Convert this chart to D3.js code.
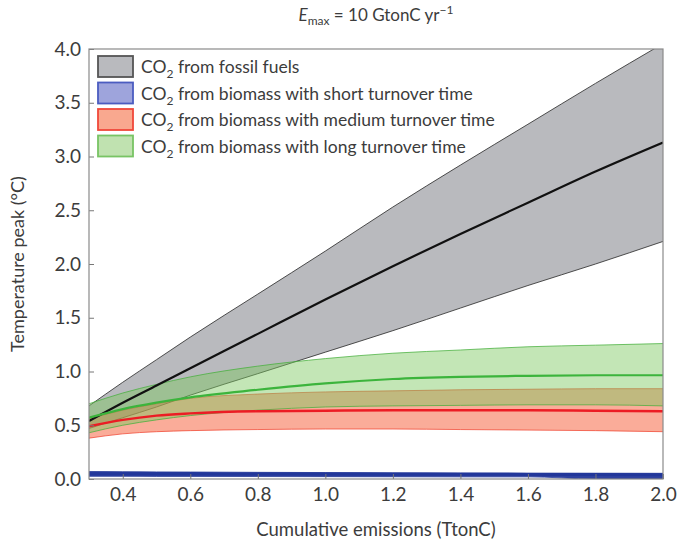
<!DOCTYPE html>
<html>
<head>
<meta charset="utf-8">
<script src="https://cdn.jsdelivr.net/npm/d3@7"></script>
<style>
  body { margin: 0; background: #fff; }
  svg text { font-family: Lato, "Open Sans", sans-serif; fill: #3c3c3c; }
</style>
</head>
<body>
<div id="chart"></div>
<script>
// cumulative emissions (TtonC)
var xs = [0.3, 0.4, 0.5, 0.6, 0.8, 1.0, 1.2, 1.4, 1.6, 1.8, 2.0];

// temperature peak (degC)
var fossilMean  = [0.54, 0.71, 0.87, 1.03, 1.35, 1.67, 1.98, 2.28, 2.57, 2.86, 3.13];
var fossilUpper = [0.68, 0.90, 1.11, 1.32, 1.72, 2.12, 2.53, 2.92, 3.30, 3.68, 4.05];
var fossilLower = [0.47, 0.57, 0.67, 0.78, 0.98, 1.18, 1.38, 1.59, 1.80, 2.00, 2.21];

var shortMean  = [0.05, 0.05, 0.049, 0.048, 0.047, 0.046, 0.045, 0.044, 0.043, 0.042, 0.04];
var shortUpper = [0.07, 0.068, 0.066, 0.065, 0.062, 0.06, 0.058, 0.056, 0.055, 0.054, 0.053];
var shortLower = [0.025, 0.025, 0.024, 0.024, 0.023, 0.022, 0.021, 0.02, 0.02, 0.0, 0.0];

var mediumMean  = [0.49, 0.55, 0.59, 0.61, 0.63, 0.635, 0.64, 0.64, 0.64, 0.635, 0.63];
var mediumUpper = [0.56, 0.64, 0.70, 0.75, 0.79, 0.81, 0.82, 0.83, 0.835, 0.84, 0.84];
var mediumLower = [0.38, 0.42, 0.44, 0.45, 0.46, 0.465, 0.465, 0.46, 0.455, 0.45, 0.44];

var longMean  = [0.57, 0.65, 0.71, 0.76, 0.83, 0.89, 0.93, 0.95, 0.96, 0.965, 0.965];
var longUpper = [0.70, 0.80, 0.88, 0.95, 1.05, 1.12, 1.17, 1.20, 1.23, 1.245, 1.26];
var longLower = [0.43, 0.50, 0.55, 0.59, 0.64, 0.67, 0.68, 0.685, 0.69, 0.69, 0.68];

var xTicks = [0.4, 0.6, 0.8, 1.0, 1.2, 1.4, 1.6, 1.8, 2.0];
var yTicks = [0, 0.5, 1, 1.5, 2, 2.5, 3, 3.5, 4];

var legendLabels = [
  "from fossil fuels",
  "from biomass with short turnover time",
  "from biomass with medium turnover time",
  "from biomass with long turnover time"
];

var width = 679, height = 546;
var margin = {top: 49, right: 16, bottom: 66, left: 89};

var svg = d3.select("#chart").append("svg")
    .attr("width", width)
    .attr("height", height);

var x = d3.scaleLinear().domain([0.3, 2.0]).range([margin.left, width - margin.right]);
var y = d3.scaleLinear().domain([0, 4]).range([height - margin.bottom - 1, margin.top]);

svg.append("clipPath").attr("id", "plot-clip")
  .append("rect")
    .attr("x", x(0.3)).attr("y", y(4))
    .attr("width", x(2.0) - x(0.3)).attr("height", y(0) - y(4));

var series = [
  {mean: fossilMean, upper: fossilUpper, lower: fossilLower,
   fill: "#b9babe", edge: "#3a3a3a", line: "#111", lw: 2.2, ew: 0.9},
  {mean: mediumMean, upper: mediumUpper, lower: mediumLower,
   fill: "rgba(245,95,60,0.52)", edge: "rgba(240,60,40,0.7)", line: "#ec1c24", lw: 2.4, ew: 1},
  {mean: longMean, upper: longUpper, lower: longLower,
   fill: "rgba(125,200,95,0.46)", edge: "rgba(70,175,60,0.75)", line: "#3cb43c", lw: 2.2, ew: 1},
  {mean: shortMean, upper: shortUpper, lower: shortLower,
   fill: "rgba(35,55,155,0.95)", edge: "#2b3f9c", line: "#22379a", lw: 3, ew: 0.8}
];

var plot = svg.append("g").attr("clip-path", "url(#plot-clip)");

var area = d3.area()
    .x(function(d) { return x(d.x); })
    .y0(function(d) { return y(d.lo); })
    .y1(function(d) { return y(d.hi); })
    .curve(d3.curveMonotoneX);

var line = d3.line()
    .x(function(d) { return x(d.x); })
    .y(function(d) { return y(d.v); })
    .curve(d3.curveMonotoneX);

series.forEach(function(s) {
  var pts = xs.map(function(v, i) { return {x: v, lo: s.lower[i], hi: s.upper[i]}; });
  plot.append("path").datum(pts)
    .attr("d", area)
    .attr("fill", s.fill);
  [s.upper, s.lower].forEach(function(arr) {
    plot.append("path")
      .datum(xs.map(function(v, i) { return {x: v, v: arr[i]}; }))
      .attr("d", line)
      .attr("fill", "none")
      .attr("stroke", s.edge)
      .attr("stroke-width", s.ew);
  });
});

series.forEach(function(s) {
  plot.append("path")
    .datum(xs.map(function(v, i) { return {x: v, v: s.mean[i]}; }))
    .attr("d", line)
    .attr("fill", "none")
    .attr("stroke", s.line)
    .attr("stroke-width", s.lw);
});

// axes with inward ticks
var xAxis = svg.append("g")
    .attr("transform", "translate(0," + y(0) + ")")
    .call(d3.axisBottom(x).tickValues(xTicks).tickFormat(d3.format(".1f"))
      .tickSizeInner(-5).tickSizeOuter(0).tickPadding(9));
var yAxis = svg.append("g")
    .attr("transform", "translate(" + x(0.3) + ",0)")
    .call(d3.axisLeft(y).tickValues(yTicks).tickFormat(d3.format(".1f"))
      .tickSizeInner(-5).tickSizeOuter(0).tickPadding(8));

[xAxis, yAxis].forEach(function(a) {
  a.select(".domain").remove();
  a.selectAll(".tick line").attr("stroke", "#777");
  a.selectAll(".tick text").attr("font-size", 19).style("fill", "#3c3c3c")
    .attr("font-family", "Lato, sans-serif");
});

svg.append("rect")
    .attr("x", x(0.3)).attr("y", y(4))
    .attr("width", x(2.0) - x(0.3)).attr("height", y(0) - y(4))
    .attr("fill", "none")
    .attr("stroke", "#8a8a8a")
    .attr("stroke-width", 1.2);

// legend
var swatches = [
  {fill: "#b9babe", stroke: "#555"},
  {fill: "#9ea4dc", stroke: "#4b5cc0"},
  {fill: "#f9a88f", stroke: "#f0483a"},
  {fill: "#c0e2b0", stroke: "#78c464"}
];
var legend = svg.append("g").attr("transform", "translate(98,56)");
legendLabels.forEach(function(lbl, i) {
  var g = legend.append("g").attr("transform", "translate(0," + (i * 26.5) + ")");
  g.append("rect")
    .attr("x", 0).attr("y", 0).attr("width", 35).attr("height", 21)
    .attr("fill", swatches[i].fill)
    .attr("stroke", swatches[i].stroke)
    .attr("stroke-width", 1.8);
  var t = g.append("text")
    .attr("x", 43).attr("y", 17)
    .attr("font-size", 17.5);
  t.append("tspan").text("CO");
  t.append("tspan").attr("dy", 5).attr("font-size", 12).text("2");
  t.append("tspan").attr("dy", -5).text(" " + lbl);
});

// titles
var title = svg.append("text")
    .attr("x", (x(0.3) + x(2.0)) / 2).attr("y", 21)
    .attr("text-anchor", "middle")
    .attr("font-size", 17);
title.append("tspan").attr("font-style", "italic").text("E");
title.append("tspan").attr("dy", 4).attr("font-size", 12).text("max");
title.append("tspan").attr("dy", -4).text(" = 10 GtonC yr");
title.append("tspan").attr("dy", -7).attr("font-size", 12).text("\u22121");

svg.append("text")
    .attr("x", (x(0.3) + x(2.0)) / 2).attr("y", 536)
    .attr("text-anchor", "middle")
    .attr("font-size", 18.5)
    .text("Cumulative emissions (TtonC)");

svg.append("text")
    .attr("transform", "translate(24," + ((y(0) + y(4)) / 2) + ") rotate(-90)")
    .attr("text-anchor", "middle")
    .attr("font-size", 18)
    .text("Temperature peak (\u00B0C)");
</script>
</body>
</html>
